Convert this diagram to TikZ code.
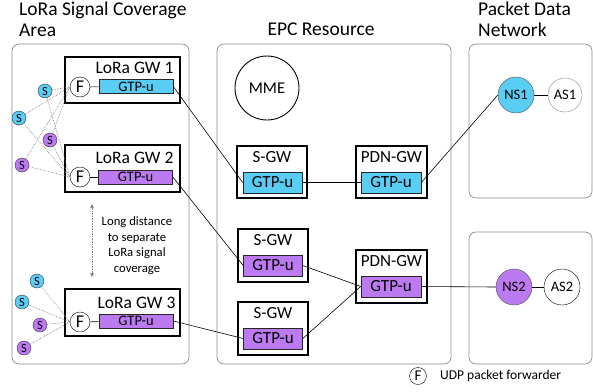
\documentclass[tikz,border=0pt]{standalone}
\usepackage{fontspec}
\setmainfont{Carlito}
\usetikzlibrary{arrows.meta}
\definecolor{cblue}{RGB}{90,205,245}
\definecolor{cpurp}{RGB}{188,122,240}
\begin{document}
\begin{tikzpicture}[x=1pt,y=-1pt,
  panel/.style={draw=black!45,line width=0.7pt,rounded corners=7pt},
  gwbox/.style={draw,line width=1.1pt,rectangle,inner sep=0pt},
  gtpa/.style={draw=black!85,line width=0.6pt,rectangle,inner sep=0pt,minimum width=74pt,minimum height=14pt,font=\fontsize{14.5}{14.5}\selectfont},
  gtpb/.style={draw=black!85,line width=0.6pt,rectangle,inner sep=0pt,minimum width=59pt,minimum height=21pt,font=\fontsize{17}{17}\selectfont},
  fwd/.style={draw,circle,fill=white,inner sep=0pt,minimum size=20pt,font=\fontsize{18}{18}\selectfont},
  sens/.style={draw=black!80,circle,inner sep=0pt,minimum size=14pt,font=\fontsize{12.5}{12.5}\selectfont},
  gwlabel/.style={font=\fontsize{17.5}{17.5}\selectfont},
  boxlabel/.style={font=\fontsize{17}{17}\selectfont},
  title/.style={font=\fontsize{19.5}{21}\selectfont,align=left},
  dotl/.style={draw=black!50,densely dotted,line width=0.65pt},
  conn/.style={draw,line width=0.6pt}
]
\useasboundingbox (0,0) rectangle (593,391);

% titles
\node[title,anchor=north west,inner sep=0pt] (t1) at (19,2) {LoRa Signal Coverage\\Area};
\node[title,inner sep=0pt] (t2) at (321,29) {EPC Resource};
\node[title,anchor=north west,inner sep=0pt] (t3) at (478,2) {Packet Data\\Network};

% panels
\draw[panel] (12,44) rectangle (189,364);
\draw[panel] (217,44) rectangle (451,364);
\draw[panel] (469,44) rectangle (592,198);
\draw[panel] (469,232) rectangle (592,364);

% LoRa gateways
\node[gwbox,minimum width=115pt,minimum height=46pt] (gw1) at (122.5,80) {};
\node[gwbox,minimum width=115pt,minimum height=47pt] (gw2) at (122.5,168.5) {};
\node[gwbox,minimum width=115pt,minimum height=47pt] (gw3) at (122.5,312.5) {};
\node[gwlabel] (gw1l) at (134.5,68) {LoRa GW 1};
\node[gwlabel] (gw2l) at (134.5,158) {LoRa GW 2};
\node[gwlabel] (gw3l) at (136.5,303) {LoRa GW 3};
\node[gtpa,fill=cblue] (g1) at (136,86.5) {GTP-u};
\node[gtpa,fill=cpurp] (g2) at (135.5,177) {GTP-u};
\node[gtpa,fill=cpurp] (g3) at (136,321) {GTP-u};

% sensors
\node[sens,fill=cblue] (s1) at (45,91) {S};
\node[sens,fill=cblue] (s2) at (19,118) {S};
\node[sens,fill=cpurp] (s3) at (50,140) {S};
\node[sens,fill=cpurp] (s4) at (22,165) {S};
\node[sens,fill=cblue] (s5) at (37,281) {S};
\node[sens,fill=cblue] (s6) at (22,302) {S};
\node[sens,fill=cpurp] (s7) at (40,325) {S};
\node[sens,fill=cpurp] (s8) at (24,348) {S};

% forwarders
\node[fwd] (f1) at (80,87) {F};
\node[fwd] (f2) at (80,177) {F};
\node[fwd] (f3) at (80,322) {F};
\draw[conn] (f1) -- (g1);
\draw[conn] (f2) -- (g2);
\draw[conn] (f3) -- (g3);

% dotted sensor links
\foreach \s in {s1,s2,s3,s4}{
  \draw[dotl] (\s) -- (f1.west);
  \draw[dotl] (\s) -- (f2.west);
}
\foreach \s in {s5,s6,s7,s8}{
  \draw[dotl] (\s) -- (f3.west);
}

% long distance
\coordinate (la) at (92,204);
\coordinate (lb) at (92,277);
\draw[dotl,{Triangle[width=3.5pt,length=4pt]}-{Triangle[width=3.5pt,length=4pt]}] (la) -- (lb);
\node[font=\fontsize{12.7}{15.5}\selectfont,align=center] (ld) at (137,245.5) {Long distance\\to separate\\LoRa signal\\coverage};

% EPC
\node[draw,circle,line width=0.9pt,minimum size=64pt,inner sep=0pt,font=\fontsize{16.5}{16.5}\selectfont] (mme) at (267,88) {MME};
\node[gwbox,minimum width=70pt,minimum height=52pt] (sg1) at (272,172) {};
\node[gwbox,minimum width=71pt,minimum height=52pt] (pg1) at (391.5,172) {};
\node[gwbox,minimum width=70pt,minimum height=53pt] (sg2) at (273,255.5) {};
\node[gwbox,minimum width=70pt,minimum height=53pt] (sg3) at (273,328.5) {};
\node[gwbox,minimum width=71pt,minimum height=53pt] (pg2) at (391.5,276.5) {};
\node[boxlabel] (sg1l) at (272,157) {S-GW};
\node[boxlabel] (pg1l) at (391.5,157) {PDN-GW};
\node[boxlabel] (sg2l) at (273,240.5) {S-GW};
\node[boxlabel] (sg3l) at (273,313.5) {S-GW};
\node[boxlabel] (pg2l) at (391.5,261.5) {PDN-GW};
\node[gtpb,fill=cblue] (sgt1) at (272.5,182.5) {GTP-u};
\node[gtpb,fill=cblue,minimum width=60pt] (pgt1) at (391,182.5) {GTP-u};
\node[gtpb,fill=cpurp] (sgt2) at (273,265.5) {GTP-u};
\node[gtpb,fill=cpurp] (sgt3) at (273,338.5) {GTP-u};
\node[gtpb,fill=cpurp,minimum width=60pt] (pgt2) at (391,286.5) {GTP-u};

% PDN
\node[draw=black!70,circle,fill=cblue,minimum size=36pt,inner sep=0pt,font=\fontsize{14.5}{14.5}\selectfont] (ns1) at (516,95) {NS1};
\node[draw=black!45,circle,fill=white,minimum size=34pt,inner sep=0pt,font=\fontsize{14.5}{14.5}\selectfont] (as1) at (565,95) {AS1};
\node[draw=black!70,circle,fill=cpurp,minimum size=36pt,inner sep=0pt,font=\fontsize{14.5}{14.5}\selectfont] (ns2) at (514,287) {NS2};
\node[draw,circle,fill=white,minimum size=36pt,inner sep=0pt,font=\fontsize{14.5}{14.5}\selectfont] (as2) at (562,287) {AS2};

% connectors
\draw[conn] (g1.east) -- (sgt1.west);
\draw[conn] (sgt1.east) -- (pgt1.west);
\draw[conn] (pgt1.east) -- (ns1.west);
\draw[conn] (g2.east) -- (sgt2.west);
\draw[conn] (g3.east) -- (sgt3.west);
\draw[conn] (sgt2.east) -- (pgt2.west);
\draw[conn] (sgt3.east) -- (pgt2.west);
\draw[conn] (pgt2.east) -- (ns2.west);
\draw[conn] (ns1) -- (as1);
\draw[conn] (ns2) -- (as2);

% legend
\node[draw,circle,inner sep=0pt,minimum size=17pt,font=\fontsize{15}{15}\selectfont] (lf) at (418,376) {F};
\node[anchor=west,inner sep=0pt,font=\fontsize{13.5}{13.5}\selectfont] (lt) at (440,376) {UDP packet forwarder};
\end{tikzpicture}
\end{document}
